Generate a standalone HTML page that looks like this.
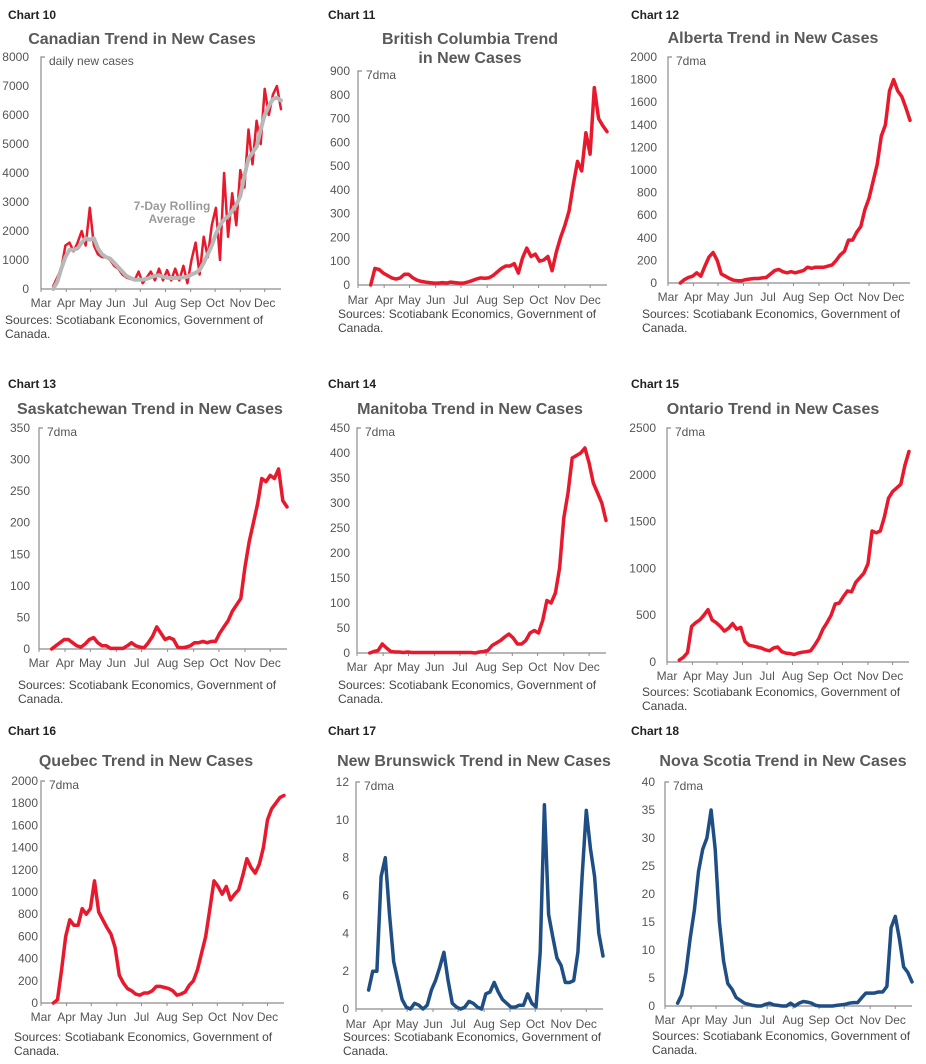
<!DOCTYPE html>
<html><head><meta charset="utf-8">
<style>
body{margin:0;background:#fff;}
svg{display:block;font-family:"Liberation Sans",Arial,sans-serif;}
.ch{font-size:12px;font-weight:bold;fill:#222;}
.tt{font-size:16px;font-weight:bold;fill:#595959;}
.tk{font-size:12px;fill:#555;}
.src{font-size:12px;fill:#444;}
</style></head><body>
<svg id="c" width="926" height="1064" viewBox="0 0 926 1064"></svg>
<script>
const days=[15,20,25,30,35,40,45,50,55,60,65,70,75,80,85,90,95,100,105,110,115,120,125,130,135,140,145,150,155,160,165,170,175,180,185,190,195,200,205,210,215,220,225,230,235,240,245,250,255,260,265,270,275,280,285,290,295];
const months=["Mar","Apr","May","Jun","Jul","Aug","Sep","Oct","Nov","Dec"];
const monthStart=[0,31,61,92,122,153,184,214,245,275];
const canDaily=[100,400,700,1500,1600,1300,1600,2000,1500,2800,1500,1200,1100,1100,1000,800,700,500,400,350,300,600,200,400,600,300,700,300,650,300,700,300,800,200,1000,1600,500,1800,1100,2200,2800,1000,4000,1800,3300,2200,4100,3500,5500,4300,5800,5000,6900,6000,6700,7000,6200];
const canAvg=[0,250,700,1100,1350,1350,1400,1600,1750,1700,1750,1400,1200,1100,1050,900,750,600,450,380,320,320,320,350,400,450,470,420,390,380,380,390,400,420,500,560,650,900,1200,1500,1900,2200,2400,2500,2700,2900,3200,3900,4500,4700,4900,5500,6000,6300,6550,6600,6500];
const bc=[0,70,65,50,40,30,25,30,45,45,30,20,15,12,10,8,8,10,8,12,10,8,8,12,18,25,30,28,30,40,55,70,80,80,90,50,115,155,120,130,100,105,120,60,140,200,250,310,420,520,480,640,550,830,700,670,645];
const ab=[0,30,50,60,90,60,150,230,270,200,80,60,40,25,20,20,30,35,40,40,45,50,80,110,120,100,90,100,90,100,110,140,130,140,140,140,150,160,200,250,280,380,380,450,500,650,750,900,1050,1300,1400,1700,1800,1700,1650,1550,1440];
const sk=[0,5,10,15,15,10,5,3,8,15,18,10,5,5,1,1,1,1,5,10,5,3,2,10,20,35,25,15,18,15,3,2,3,5,10,10,12,10,12,12,25,35,45,60,70,80,130,170,200,230,270,265,275,270,285,235,225];
const mb=[0,3,5,18,10,3,2,2,1,2,1,1,1,1,1,1,1,1,1,1,1,1,1,1,1,0,2,3,5,15,20,25,32,38,30,18,18,25,40,45,40,65,105,100,120,170,270,320,390,395,400,410,380,340,320,300,265];
const on=[20,50,100,380,420,450,500,560,450,420,380,330,360,410,350,370,220,180,170,160,150,130,120,150,160,110,95,90,80,95,105,110,120,180,250,350,420,500,620,630,700,760,750,850,900,950,1050,1400,1380,1400,1550,1750,1820,1860,1900,2100,2250];
const qc=[0,30,300,600,750,700,700,850,800,850,1100,820,750,680,620,500,250,180,130,110,80,70,90,90,110,150,150,140,130,110,70,80,100,160,200,300,450,600,850,1100,1050,980,1050,930,980,1020,1150,1300,1220,1170,1250,1400,1650,1750,1800,1850,1870];
const nb=[1,2,2,7,8,5,2.5,1.5,0.5,0.1,0,0.3,0.2,0,0.2,1,1.5,2.2,3,1.5,0.3,0.1,0,0.1,0.4,0.3,0.1,0,0.8,0.9,1.4,0.9,0.5,0.3,0.1,0.1,0.2,0.2,0.8,0.3,0.1,3,10.8,5,3.8,2.7,2.3,1.4,1.4,1.5,3,7,10.5,8.5,7,4,2.8];
const ns=[0.5,2,6,12,17,24,28,30,35,28,15,8,4,3,1.5,1,0.5,0.3,0.1,0,0,0.3,0.5,0.2,0.1,0,0,0.5,0,0.5,0.8,0.7,0.5,0.1,0,0,0,0,0.1,0.2,0.3,0.5,0.6,0.6,1.5,2.3,2.3,2.3,2.5,2.5,3.5,14,16,12,7,6,4.3];

const NS="http://www.w3.org/2000/svg";
const svg=document.getElementById('c');
function el(t,a,p){const e=document.createElementNS(NS,t);for(const k in a)e.setAttribute(k,a[k]);(p||svg).appendChild(e);return e;}
function txt(s,a,p){const e=el('text',a,p);e.textContent=s;return e;}

const panels=[
 {n:"10",title:["Canadian Trend in New Cases"],tx:142,ty:[44],x0:41,x1:281,yT:57,yB:289,max:8000,step:1000,lr:29,my:307,sx:5,sy:324,unit:"daily new cases",series:[{d:canDaily,c:"#e8192c",w:2.5},{d:canAvg,c:"#b8b8b8",w:4}],cx:8,cy:19},
 {n:"11",title:["British Columbia  Trend","in New Cases"],tx:470,ty:[44,63],x0:358,x1:607,yT:71,yB:285,max:900,step:100,lr:350,my:304,sx:338,sy:318,unit:"7dma",series:[{d:bc,c:"#e8192c",w:3.5}],cx:328,cy:19},
 {n:"12",title:["Alberta Trend in New Cases"],tx:773,ty:[43],x0:668,x1:910,yT:57,yB:283,max:2000,step:200,lr:657,my:301,sx:642,sy:318,unit:"7dma",series:[{d:ab,c:"#e8192c",w:3.5}],cx:631,cy:19},
 {n:"13",title:["Saskatchewan Trend in New Cases"],tx:150,ty:[414],x0:39,x1:287,yT:428,yB:649,max:350,step:50,lr:30,my:667,sx:18,sy:689,unit:"7dma",series:[{d:sk,c:"#e8192c",w:3.5}],cx:8,cy:388},
 {n:"14",title:["Manitoba Trend in New Cases"],tx:470,ty:[414],x0:357,x1:606,yT:428,yB:653,max:450,step:50,lr:350,my:671,sx:338,sy:689,unit:"7dma",series:[{d:mb,c:"#e8192c",w:3.5}],cx:328,cy:388},
 {n:"15",title:["Ontario Trend in New Cases"],tx:773,ty:[414],x0:667,x1:909,yT:428,yB:662,max:2500,step:500,lr:656,my:680,sx:642,sy:696,unit:"7dma",series:[{d:on,c:"#e8192c",w:3.5}],cx:631,cy:388},
 {n:"16",title:["Quebec Trend in New Cases"],tx:146,ty:[766],x0:41,x1:284,yT:781,yB:1003,max:2000,step:200,lr:38,my:1021,sx:14,sy:1041,unit:"7dma",series:[{d:qc,c:"#e8192c",w:3.5}],cx:8,cy:735},
 {n:"17",title:["New Brunswick Trend in New Cases"],tx:474,ty:[766],x0:356,x1:603,yT:782,yB:1009,max:12,step:2,lr:349,my:1028,sx:343,sy:1041,unit:"7dma",series:[{d:nb,c:"#1f4e85",w:3.5}],cx:328,cy:735},
 {n:"18",title:["Nova Scotia Trend in New Cases"],tx:783,ty:[766],x0:665,x1:912,yT:782,yB:1006,max:40,step:5,lr:655,my:1024,sx:652,sy:1040,unit:"7dma",series:[{d:ns,c:"#1f4e85",w:3.5}],cx:631,cy:735}
];

panels.forEach(P=>{
  const g=el('g',{});
  
  
  const X=d=>P.x0+(P.x1-P.x0)*d/295;
  const Y=v=>P.yB-(P.yB-P.yT)*v/P.max;
  const c=txt('Chart '+P.n,{x:P.cx,y:P.cy,class:'ch'},g);
  
  
  P.title.forEach((t,i)=>{
    const e=txt(t,{x:P.tx,y:P.ty[i],class:'tt','text-anchor':'middle'},g);
    
    
  });
  for(let v=0;v<=P.max+1e-9;v+=P.step){
    const e=txt(String(Math.round(v*100)/100),{x:P.lr,y:Y(v)+4,class:'tk','text-anchor':'end'},g);
    
    
  }
  const ya=el('path',{d:`M${P.x0+4} ${P.yT}H${P.x0}V${P.yB}`,stroke:'#8c8c8c','stroke-width':1.2,fill:'none'},g);
  
  
  const xa=el('line',{x1:P.x0,x2:P.x1,y1:P.yB,y2:P.yB,stroke:'#8c8c8c','stroke-width':1.2},g);
  
  
  months.forEach((m,i)=>{
    const x=X(monthStart[i]);
    el('line',{x1:x,x2:x,y1:P.yB,y2:P.yB+3,stroke:'#8c8c8c'},g);
    const e=txt(m,{x:x,y:P.my,class:'tk','text-anchor':'middle'},g);
    
    
  });
  const u=txt(P.unit,{x:P.x0+8,y:P.yT+8,class:'tk'},g);
  
  
  P.series.forEach(s=>{
    const d=s.d.map((v,i)=>(i?'L':'M')+X(days[i]).toFixed(1)+' '+Y(v).toFixed(1)).join('');
    const p=el('path',{d:d,stroke:s.c,'stroke-width':s.w,fill:'none','stroke-linejoin':'round','stroke-linecap':'round'},g);
    
    
  });
  const s1=txt('Sources: Scotiabank Economics, Government of',{x:P.sx,y:P.sy,class:'src'},g);
  
  
  const s2=txt('Canada.',{x:P.sx,y:P.sy+14,class:'src'},g);
  
  
});
const a1=txt('7-Day Rolling',{x:172,y:210,'font-size':12,'font-weight':'bold',fill:'#9a9a9a','text-anchor':'middle'});


const a2=txt('Average',{x:172,y:223,'font-size':12,'font-weight':'bold',fill:'#9a9a9a','text-anchor':'middle'});


</script>
</body></html>
